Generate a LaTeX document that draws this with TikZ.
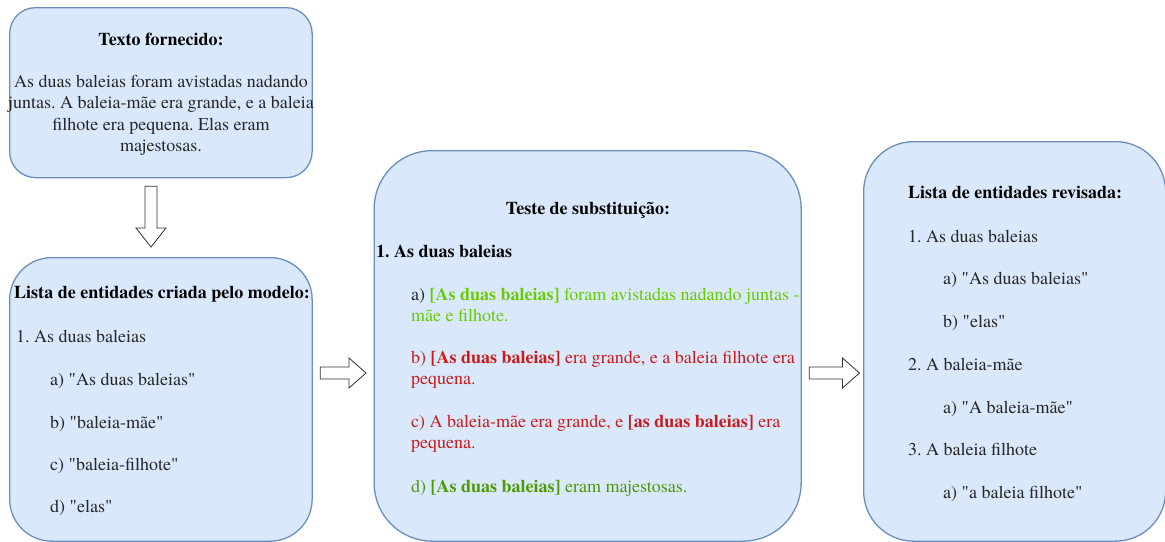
\documentclass[tikz,border=0pt]{standalone}
\usepackage{fontspec}
\setmainfont{texgyretermes}[Extension=.otf, UprightFont=*-regular, BoldFont=*-bold, ItalicFont=*-italic, BoldItalicFont=*-bolditalic, Ligatures=TeXOff]
\usetikzlibrary{calc}
\frenchspacing

\definecolor{boxfill}{HTML}{DAE8FC}
\definecolor{boxline}{HTML}{6C8EBF}
\definecolor{bodytext}{HTML}{262626}
\definecolor{okgreen}{HTML}{66CC00}
\definecolor{darkgreen}{HTML}{4D9900}
\definecolor{badred}{HTML}{CC1A1A}
\definecolor{arrowline}{HTML}{333333}

\tikzset{
  panel/.style={draw=boxline, fill=boxfill, line width=1.3pt, inner sep=0pt, anchor=north west},
  blockarrow/.style={draw=arrowline, fill=white, line width=0.8pt, line join=miter},
  txt/.style={inner sep=0pt, anchor=base west, text=bodytext, font=\fontsize{18}{21.5}\selectfont},
  ctxt/.style={txt, anchor=base},
  ttl/.style={txt, text=black, font=\fontsize{18}{21.5}\selectfont\bfseries},
  cttl/.style={ttl, anchor=base},
}

% horizontal and vertical outlined block arrows
\newcommand{\hblock}[2]{\draw[blockarrow] let \p1=(#1), \p2=(#2) in
  (\x1,\y1+6pt) -- (\x2-17pt,\y1+6pt) -- (\x2-17pt,\y1+15pt) -- (\x2,\y1)
  -- (\x2-17pt,\y1-15pt) -- (\x2-17pt,\y1-6pt) -- (\x1,\y1-6pt) -- cycle;}
\newcommand{\vblock}[2]{\draw[blockarrow] let \p1=(#1), \p2=(#2) in
  (\x1-6pt,\y1) -- (\x1+6pt,\y1) -- (\x1+6pt,\y2+19pt) -- (\x1+15pt,\y2+19pt)
  -- (\x1,\y2) -- (\x1-15pt,\y2+19pt) -- (\x1-6pt,\y2+19pt) -- cycle;}

\begin{document}
\begin{tikzpicture}[x=1pt, y=-1pt]
\clip (0,0) rectangle (1165,541);
\fill[white] (0,0) rectangle (1165,541);

% panels
\node[panel, rounded corners=26pt, minimum width=302.5pt, minimum height=170pt] (b1) at (9,7) {};
\node[panel, rounded corners=42pt, minimum width=302.5pt, minimum height=283.5pt] (b2) at (9,257) {};
\node[panel, rounded corners=58pt, minimum width=427pt, minimum height=390.5pt] (b3) at (373.5,150) {};
\node[panel, rounded corners=50pt, minimum width=302pt, minimum height=399.5pt] (b4) at (863,141) {};

% arrows between panels
\coordinate (a0s) at ($(b1.south west)+(142,8)$);
\coordinate (a0e) at ($(b2.north west)+(142,-10)$);
\coordinate (a1s) at ($(b2.north east)+(7.5,116)$);
\coordinate (a1e) at ($(b3.north west)+(-7.5,223)$);
\coordinate (a2s) at ($(b3.north east)+(7.5,223)$);
\coordinate (a2e) at ($(b4.north west)+(-3.5,232)$);
\vblock{a0s}{a0e}
\hblock{a1s}{a1e}
\hblock{a2s}{a2e}

% panel 1
\node[cttl] (t1) at (161,45.7) {Texto fornecido:};
\node[ctxt] (t1a) at (161,87) {As duas baleias foram avistadas nadando};
\node[ctxt] (t1b) at (161,108.5) {juntas. A baleia-mãe era grande, e a baleia};
\node[ctxt] (t1c) at (161,130) {filhote era pequena. Elas eram};
\node[ctxt] (t1d) at (161,151.5) {majestosas.};

% panel 2
\node[ttl] (t2) at (14,298) {Lista de entidades criada pelo modelo:};
\node[txt] (t2a) at (16,342) {1. As duas baleias};
\node[txt] (t2b) at (50,385) {a) "As duas baleias"};
\node[txt] (t2c) at (50,428) {b) "baleia-mãe"};
\node[txt] (t2d) at (50,470) {c) "baleia-filhote"};
\node[txt] (t2e) at (50,512) {d) "elas"};

% panel 3
\node[cttl] (t3) at (588,214) {Teste de substituição:};
\node[ttl] (t3a) at (376,257) {1. As duas baleias};
\node[txt] (t3b1) at (411,300) {a) \textcolor{okgreen}{\textbf{[As duas baleias]} foram avistadas nadando juntas -}};
\node[txt, text=okgreen] (t3b2) at (411,321) {mãe e filhote.};
\node[txt, text=badred] (t3c1) at (411,363) {b) \textbf{[As duas baleias]} era grande, e a baleia filhote era};
\node[txt, text=badred] (t3c2) at (411,384.5) {pequena.};
\node[txt, text=badred] (t3d1) at (411,427) {c) A baleia-mãe era grande, e \textbf{[as duas baleias]} era};
\node[txt, text=badred] (t3d2) at (411,448.5) {pequena.};
\node[txt, text=darkgreen] (t3e) at (411,492) {d) \textbf{[As duas baleias]} eram majestosas.};

% panel 4
\node[ttl] (t4) at (908,198) {Lista de entidades revisada:};
\node[txt] (t4a) at (908,242) {1. As duas baleias};
\node[txt] (t4b) at (943,284) {a) "As duas baleias"};
\node[txt] (t4c) at (943,327) {b) "elas"};
\node[txt] (t4d) at (908,370) {2. A baleia-mãe};
\node[txt] (t4e) at (943,413) {a) "A baleia-mãe"};
\node[txt] (t4f) at (908,455) {3. A baleia filhote};
\node[txt] (t4g) at (943,498) {a) "a baleia filhote"};
\end{tikzpicture}
\end{document}
